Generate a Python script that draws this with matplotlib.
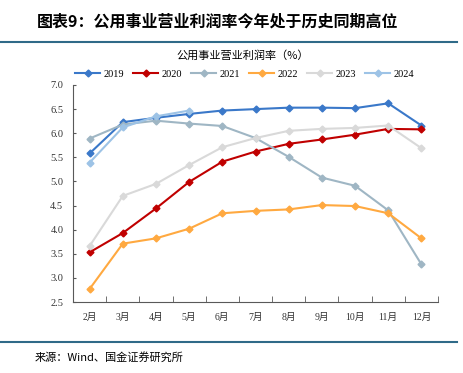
import matplotlib.pyplot as plt
from matplotlib.lines import Line2D

plt.rcParams['font.family'] = ['Liberation Serif', 'Noto Sans CJK SC', 'DejaVu Sans']

months = ['2月', '3月', '4月', '5月', '6月', '7月', '8月', '9月', '10月', '11月', '12月']
y2019 = [5.58, 6.23, 6.32, 6.40, 6.47, 6.50, 6.53, 6.53, 6.52, 6.62, 6.16]
y2020 = [3.53, 3.93, 4.44, 4.99, 5.41, 5.62, 5.78, 5.87, 5.97, 6.09, 6.08]
y2021 = [5.89, 6.18, 6.26, 6.20, 6.15, 5.90, 5.51, 5.08, 4.91, 4.40, 3.28]
y2022 = [2.77, 3.71, 3.82, 4.02, 4.34, 4.39, 4.42, 4.51, 4.49, 4.34, 3.82]
y2023 = [3.66, 4.70, 4.95, 5.34, 5.71, 5.90, 6.05, 6.09, 6.11, 6.16, 5.69]
y2024 = [5.39, 6.12, 6.35, 6.47]

series = [
    ('2019', y2019, '#3a78c9'),
    ('2020', y2020, '#c00000'),
    ('2021', y2021, '#9fb6c4'),
    ('2022', y2022, '#ffa940'),
    ('2023', y2023, '#d9d9d9'),
    ('2024', y2024, '#9dc3e6'),
]

fig = plt.figure(figsize=(4.63, 3.73), dpi=100)
ax = fig.add_axes([73 / 463, 71 / 373, 365 / 463, 217 / 373])

for name, vals, col in series:
    ax.plot(range(len(vals)), vals, color=col, lw=1.5, marker='D', ms=3.5,
            mec=col, mfc=col, label=name)

ax.set_xlim(-0.5, 10.5)
ax.set_ylim(2.5, 7.0)
ax.set_yticks([2.5, 3.0, 3.5, 4.0, 4.5, 5.0, 5.5, 6.0, 6.5, 7.0])
ax.set_yticklabels(['%.1f' % v for v in ax.get_yticks()], fontsize=7.5, color='#333333')
ax.set_xticks(range(len(months)))
ax.set_xticklabels(months, fontsize=7, color='#333333')
ax.set_xticks([i - 0.5 for i in range(len(months) + 1)], minor=True)
ax.tick_params(axis='x', which='major', length=0, pad=8)
ax.tick_params(axis='x', which='minor', direction='in', length=4, color='#595959')
ax.tick_params(axis='y', direction='in', length=2.5, color='#595959', pad=7)
ax.spines['top'].set_visible(False)
ax.spines['right'].set_visible(False)
ax.spines['left'].set_color('#595959')
ax.spines['bottom'].set_color('#595959')

ax.legend(loc='lower center', bbox_to_anchor=(0.47, 1.0), ncol=6, frameon=False,
          fontsize=7.5, handlelength=2.4, columnspacing=0.9, handletextpad=0.3,
          borderaxespad=0.2)

fig.text(243 / 463, 1 - 55 / 373, '公用事业营业利润率（%）', ha='center', va='center',
         fontsize=8, family=['Noto Sans CJK SC', 'DejaVu Sans'])

fig.text(37 / 463, 1 - 22 / 373, '图表9：公用事业营业利润率今年处于历史同期高位', ha='left', va='center',
         fontsize=11.5, fontweight='bold', style='italic',
         family=['Noto Sans CJK SC', 'DejaVu Sans'])
fig.add_artist(Line2D([0, 457 / 463], [1 - 42 / 373, 1 - 42 / 373], color='#2f6a88', lw=1.5,
                      transform=fig.transFigure))
fig.add_artist(Line2D([0, 457 / 463], [1 - 342 / 373, 1 - 342 / 373], color='#2f6a88', lw=1.5,
                      transform=fig.transFigure))
fig.text(35 / 463, 1 - 357 / 373, '来源：Wind、国金证券研究所', ha='left', va='center',
         fontsize=8, family=['Noto Sans CJK SC', 'DejaVu Sans'])

fig.savefig('out.png', dpi=100)
